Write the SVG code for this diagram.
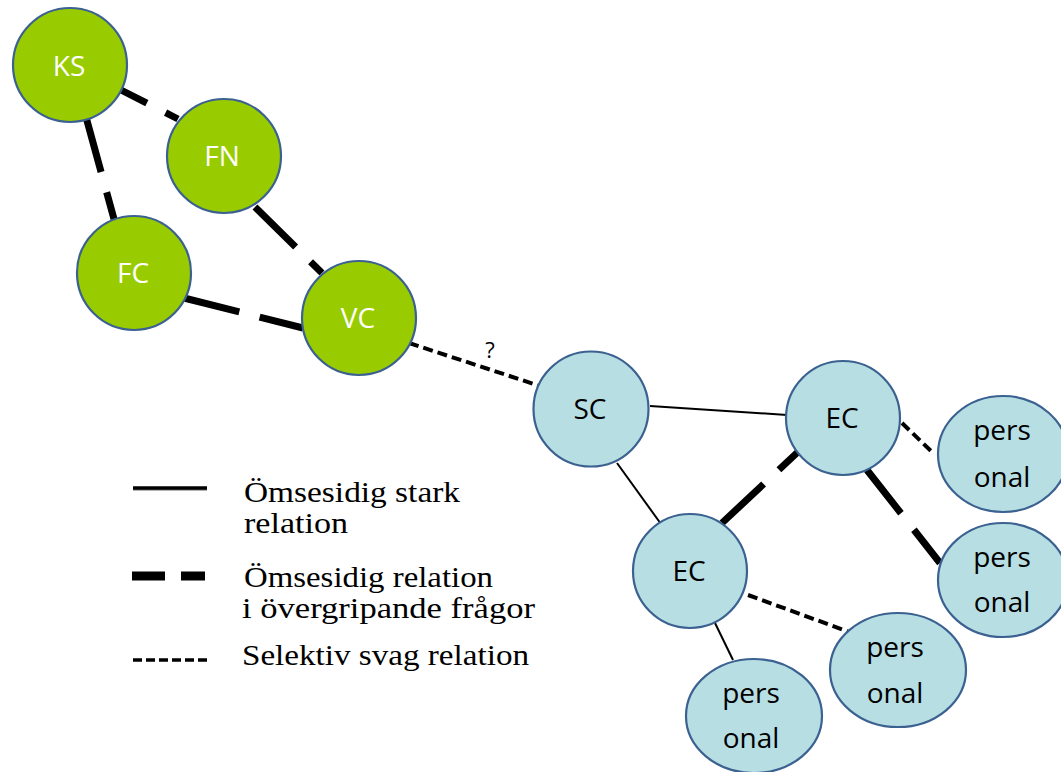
<svg xmlns="http://www.w3.org/2000/svg" width="1061" height="772" viewBox="0 0 1061 772">
<style>
.strong{stroke:#000;stroke-width:2;fill:none}
.mid{stroke:#000;stroke-width:7;fill:none;stroke-dasharray:57 21}
.weak{stroke:#000;stroke-width:4;fill:none;stroke-dasharray:10 5}
.g{fill:#99CC00;stroke:#3B6190;stroke-width:2.2}
.b{fill:#B7DEE3;stroke:#3B6190;stroke-width:2.2}
.lw{font-family:"Open Sans","Noto Sans",sans-serif;font-size:28px;fill:#fff;text-anchor:middle}
.lb{font-family:"Open Sans","Noto Sans",sans-serif;font-size:28px;fill:#000;text-anchor:middle}
.leg{font-family:"Liberation Serif","DejaVu Serif",serif;font-size:30px;fill:#000}
</style>
<rect width="1061" height="772" fill="#fff"/>
<g id="connectors">
<line class="mid" x1="121" y1="90" x2="178" y2="119" stroke-dashoffset="28"/>
<line class="mid" x1="86" y1="117" x2="114" y2="219"/>
<line class="mid" x1="255" y1="207" x2="322" y2="273"/>
<line class="mid" x1="184" y1="298" x2="303" y2="328"/>
<line class="weak" x1="409" y1="343" x2="540" y2="386"/>
<line class="strong" x1="650" y1="406" x2="787" y2="415"/>
<line class="strong" x1="617" y1="463" x2="661" y2="524"/>
<line class="mid" x1="722" y1="523" x2="800" y2="450"/>
<line class="mid" x1="867" y1="470" x2="940" y2="563" stroke-dashoffset="2"/>
<line class="weak" x1="902" y1="423" x2="932" y2="452"/>
<line class="weak" x1="748" y1="595" x2="852" y2="633"/>
<line class="strong" x1="715" y1="623" x2="733" y2="660"/>
<text x="490" y="358" font-family="Open Sans, sans-serif" font-size="22" text-anchor="middle" fill="#000">?</text>
</g>
<g id="KS"><circle class="g" cx="70" cy="65" r="57"/><text class="lw" x="69" y="76">KS</text></g>
<g id="FN"><circle class="g" cx="224" cy="156" r="57"/><text class="lw" x="222" y="166">FN</text></g>
<g id="FC"><circle class="g" cx="134" cy="273" r="57"/><text class="lw" x="133" y="283">FC</text></g>
<g id="VC"><circle class="g" cx="359" cy="318" r="57"/><text class="lw" x="358" y="328">VC</text></g>
<g id="SC"><circle class="b" cx="591" cy="409" r="57.5"/><text class="lb" x="590" y="419">SC</text></g>
<g id="EC1"><circle class="b" cx="843" cy="418" r="57"/><text class="lb" x="842" y="428">EC</text></g>
<g id="EC2"><circle class="b" cx="690" cy="571" r="57"/><text class="lb" x="689" y="581">EC</text></g>
<g id="P1"><ellipse class="b" cx="1003" cy="454" rx="65" ry="58"/><text class="lb" x="1002" y="440">pers</text><text class="lb" x="1002" y="487">onal</text></g>
<g id="P2"><ellipse class="b" cx="1003" cy="580" rx="65" ry="57"/><text class="lb" x="1002" y="567">pers</text><text class="lb" x="1002" y="612">onal</text></g>
<g id="P3"><ellipse class="b" cx="898" cy="670" rx="68" ry="57"/><text class="lb" x="895" y="657">pers</text><text class="lb" x="895" y="703">onal</text></g>
<g id="P4"><ellipse class="b" cx="754" cy="716" rx="68" ry="57"/><text class="lb" x="751" y="703">pers</text><text class="lb" x="751" y="748">onal</text></g>
<g id="legend">
<line x1="133" y1="489" x2="207" y2="489" stroke="#999" stroke-width="3.5"/>
<line x1="133" y1="488" x2="207" y2="488" stroke="#000" stroke-width="3.5"/>
<line x1="132" y1="576" x2="205" y2="576" stroke="#000" stroke-width="9" stroke-dasharray="33 16"/>
<line x1="133" y1="660" x2="207" y2="660" stroke="#000" stroke-width="3.5" stroke-dasharray="9 4"/>
<text class="leg" x="244" y="502" textLength="216" lengthAdjust="spacingAndGlyphs">Ömsesidig stark</text>
<text class="leg" x="244" y="533" textLength="104" lengthAdjust="spacingAndGlyphs">relation</text>
<text class="leg" x="244" y="587" textLength="249" lengthAdjust="spacingAndGlyphs">Ömsesidig relation</text>
<text class="leg" x="242" y="618" textLength="293" lengthAdjust="spacingAndGlyphs">i övergripande frågor</text>
<text class="leg" x="242" y="665" textLength="287" lengthAdjust="spacingAndGlyphs">Selektiv svag relation</text>
</g>
</svg>
